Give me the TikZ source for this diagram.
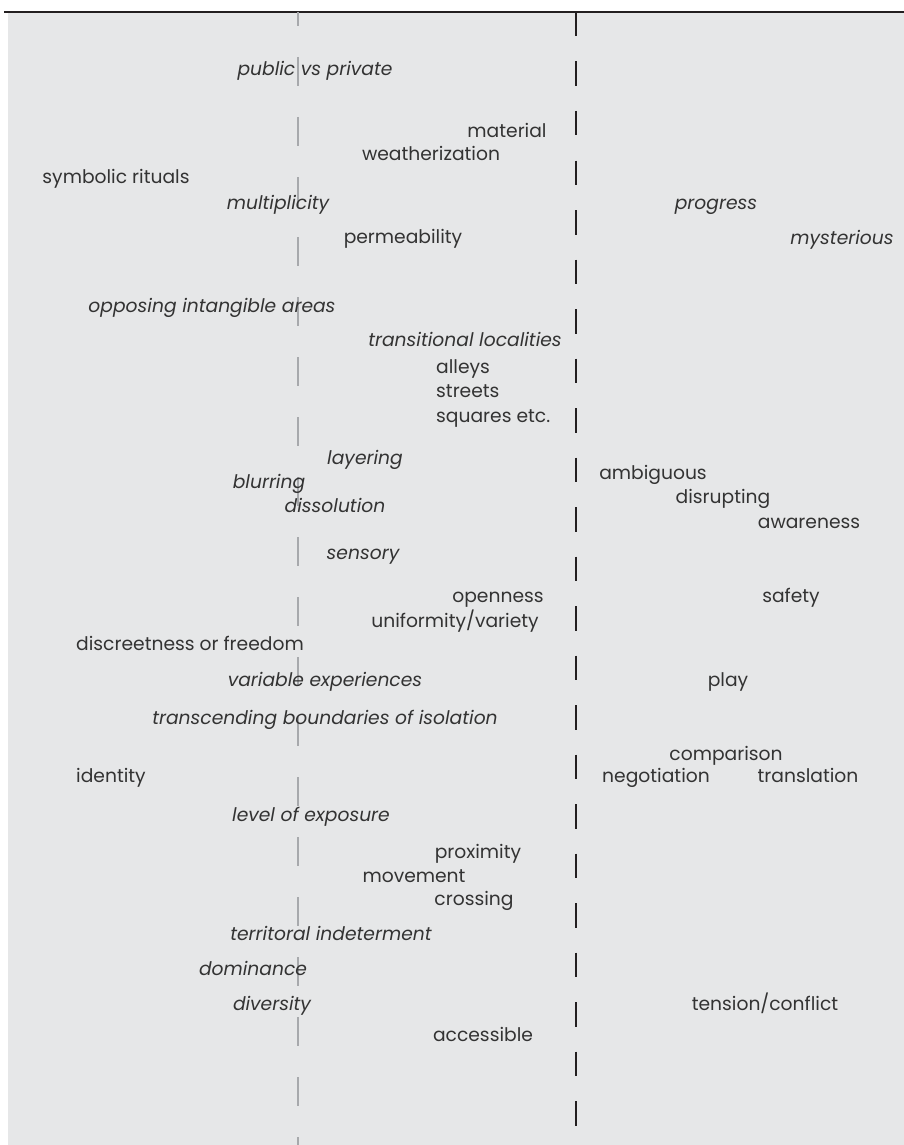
\documentclass[tikz,border=0pt]{standalone}
\usepackage{fontspec}
\setmainfont{Poppins}
\definecolor{paper}{HTML}{E6E7E8}
\definecolor{ink}{HTML}{333333}
\definecolor{rulegray}{HTML}{A7A9AC}
\definecolor{ruleblack}{HTML}{231F20}
\tikzset{
  lbl/.style={text=ink, inner sep=0pt, anchor=base,
    font=\fontsize{18.7}{22}\selectfont},
  itl/.style={lbl, font=\fontsize{18.7}{22}\selectfont\itshape},
  lft/.style={anchor=base west},
  guidegray/.style={draw=rulegray, line width=2pt,
    dash pattern=on 29pt off 31pt, dash phase=15pt},
  guideblack/.style={draw=ruleblack, line width=2.5pt,
    dash pattern=on 24.5pt off 25pt},
  toprule/.style={draw=ruleblack, line width=2.2pt}
}
\begin{document}
\begin{tikzpicture}[x=1pt, y=-1pt]
  \useasboundingbox (0,0) rectangle (904,1145);
  % panel
  \fill[paper] (8,12) rectangle (904,1145);
  \coordinate (tl) at (4,12);
  \coordinate (tr) at (904,12);
  \draw[toprule] (tl) -- (tr);
  % guide lines
  \coordinate (g0) at (298,12);
  \coordinate (g1) at (298,1145);
  \coordinate (b0) at (576,12);
  \coordinate (b1) at (576,1145);
  \draw[guidegray] (g0) -- (g1);
  \draw[guideblack] (b0) -- (b1);

  % terms
  \node[itl] (pub) at (315,76) {public vs private};
  \node[lbl] (mat) at (507,137) {material};
  \node[lbl] (wea) at (431,160) {weatherization};
  \node[lbl] (sym) at (116,183) {symbolic rituals};
  \node[itl] (mul) at (278,209) {multiplicity};
  \node[itl] (pro) at (716,209) {progress};
  \node[lbl] (per) at (403,243) {permeability};
  \node[itl] (mys) at (842,244) {mysterious};
  \node[itl] (opp) at (212,312) {opposing intangible areas};
  \node[itl] (tra) at (465,346) {transitional localities};
  \node[lbl,lft] (all) at (436,373) {alleys};
  \node[lbl,lft] (str) at (436,397) {streets};
  \node[lbl,lft] (squ) at (436,422) {squares etc.};
  \node[itl] (lay) at (365,464) {layering};
  \node[itl] (blu) at (269,488) {blurring};
  \node[itl] (dis) at (335,512) {dissolution};
  \node[itl] (sen) at (363,559) {sensory};
  \node[lbl] (amb) at (653,479) {ambiguous};
  \node[lbl] (dsr) at (723,503) {disrupting};
  \node[lbl] (awa) at (809,528) {awareness};
  \node[lbl] (ope) at (498,602) {openness};
  \node[lbl] (saf) at (791,602) {safety};
  \node[lbl] (uni) at (455,627) {uniformity/variety};
  \node[lbl] (dfr) at (190,650) {discreetness or freedom};
  \node[itl] (var) at (325,686) {variable experiences};
  \node[lbl] (pla) at (728,686) {play};
  \node[itl] (trb) at (325,724) {transcending boundaries of isolation};
  \node[lbl] (com) at (726,760) {comparison};
  \node[lbl] (ide) at (111,782) {identity};
  \node[lbl] (neg) at (656,782) {negotiation};
  \node[lbl] (trl) at (808,782) {translation};
  \node[itl] (lev) at (311,821) {level of exposure};
  \node[lbl] (prx) at (478,858) {proximity};
  \node[lbl] (mov) at (414,882) {movement};
  \node[lbl] (cro) at (474,905) {crossing};
  \node[itl] (ter) at (331,940) {territoral indeterment};
  \node[itl] (dom) at (253,975) {dominance};
  \node[itl] (div) at (272,1010) {diversity};
  \node[lbl] (ten) at (765,1010) {tension/conflict};
  \node[lbl] (acc) at (483,1041) {accessible};
\end{tikzpicture}
\end{document}
